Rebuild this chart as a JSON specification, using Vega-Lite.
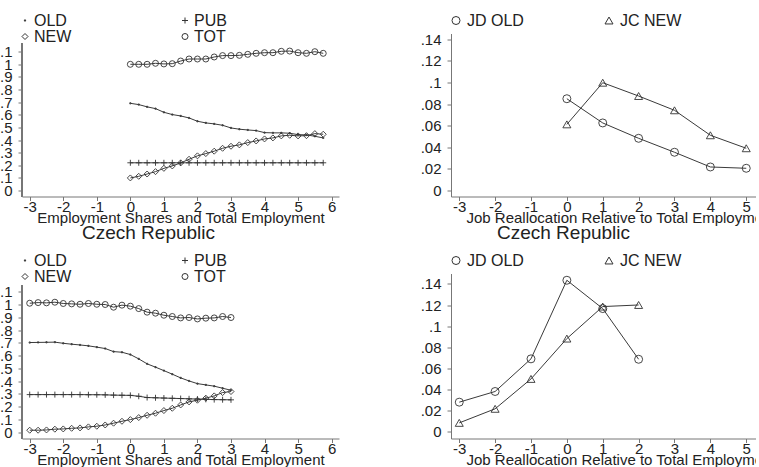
{
  "$schema": "https://vega.github.io/schema/vega-lite/v6.json",
  "padding": {"left": -9, "top": 12.5, "right": -34, "bottom": 0},
  "background": "white",
  "config": {
    "view": {"stroke": null},
    "font": "Liberation Sans",
    "axis": {
      "grid": false,
      "domainColor": "#777777",
      "tickColor": "#777777",
      "tickSize": 4,
      "domainWidth": 1,
      "tickWidth": 1,
      "labelFontSize": 15,
      "labelColor": "#222222",
      "labelOverlap": false,
      "labelFlush": false,
      "titleFontSize": 15,
      "titleFontWeight": "normal",
      "titleColor": "#222222"
    },
    "axisX": {"labelPadding": -1.5, "titlePadding": -4},
    "axisY": {"labelPadding": 6},
    "legend": {
      "orient": "top",
      "title": null,
      "columns": 2,
      "padding": 0,
      "labelFontSize": 16,
      "labelColor": "#222222",
      "labelOffset": 3,
      "labelLimit": 200,
      "rowPadding": 0,
      "symbolStrokeColor": "#333333",
      "symbolStrokeWidth": 1
    },
    "title": {"orient": "bottom", "fontSize": 19, "fontWeight": "normal", "color": "#222222", "offset": -1.5}
  },
  "datasets": {
    "shares_top": [
      {"x": 0, "series": "OLD", "v": 0.691}, {"x": 0.25, "series": "OLD", "v": 0.681}, {"x": 0.5, "series": "OLD", "v": 0.663}, {"x": 0.75, "series": "OLD", "v": 0.649},
      {"x": 1, "series": "OLD", "v": 0.62}, {"x": 1.25, "series": "OLD", "v": 0.602}, {"x": 1.5, "series": "OLD", "v": 0.591}, {"x": 1.75, "series": "OLD", "v": 0.575},
      {"x": 2, "series": "OLD", "v": 0.549}, {"x": 2.25, "series": "OLD", "v": 0.536}, {"x": 2.5, "series": "OLD", "v": 0.528}, {"x": 2.75, "series": "OLD", "v": 0.517},
      {"x": 3, "series": "OLD", "v": 0.496}, {"x": 3.25, "series": "OLD", "v": 0.486}, {"x": 3.5, "series": "OLD", "v": 0.48}, {"x": 3.75, "series": "OLD", "v": 0.475},
      {"x": 4, "series": "OLD", "v": 0.459}, {"x": 4.25, "series": "OLD", "v": 0.457}, {"x": 4.5, "series": "OLD", "v": 0.457}, {"x": 4.75, "series": "OLD", "v": 0.454},
      {"x": 5, "series": "OLD", "v": 0.443}, {"x": 5.25, "series": "OLD", "v": 0.441}, {"x": 5.5, "series": "OLD", "v": 0.43}, {"x": 5.75, "series": "OLD", "v": 0.417},

      {"x": 0, "series": "PUB", "v": 0.22}, {"x": 0.25, "series": "PUB", "v": 0.22}, {"x": 0.5, "series": "PUB", "v": 0.22}, {"x": 0.75, "series": "PUB", "v": 0.22},
      {"x": 1, "series": "PUB", "v": 0.22}, {"x": 1.25, "series": "PUB", "v": 0.22}, {"x": 1.5, "series": "PUB", "v": 0.22}, {"x": 1.75, "series": "PUB", "v": 0.22},
      {"x": 2, "series": "PUB", "v": 0.22}, {"x": 2.25, "series": "PUB", "v": 0.22}, {"x": 2.5, "series": "PUB", "v": 0.22}, {"x": 2.75, "series": "PUB", "v": 0.22},
      {"x": 3, "series": "PUB", "v": 0.22}, {"x": 3.25, "series": "PUB", "v": 0.22}, {"x": 3.5, "series": "PUB", "v": 0.22}, {"x": 3.75, "series": "PUB", "v": 0.22},
      {"x": 4, "series": "PUB", "v": 0.22}, {"x": 4.25, "series": "PUB", "v": 0.22}, {"x": 4.5, "series": "PUB", "v": 0.22}, {"x": 4.75, "series": "PUB", "v": 0.22},
      {"x": 5, "series": "PUB", "v": 0.22}, {"x": 5.25, "series": "PUB", "v": 0.22}, {"x": 5.5, "series": "PUB", "v": 0.22}, {"x": 5.75, "series": "PUB", "v": 0.22},

      {"x": 0, "series": "NEW", "v": 0.1}, {"x": 0.25, "series": "NEW", "v": 0.113}, {"x": 0.5, "series": "NEW", "v": 0.131}, {"x": 0.75, "series": "NEW", "v": 0.15},
      {"x": 1, "series": "NEW", "v": 0.176}, {"x": 1.25, "series": "NEW", "v": 0.195}, {"x": 1.5, "series": "NEW", "v": 0.219}, {"x": 1.75, "series": "NEW", "v": 0.248},
      {"x": 2, "series": "NEW", "v": 0.275}, {"x": 2.25, "series": "NEW", "v": 0.293}, {"x": 2.5, "series": "NEW", "v": 0.312}, {"x": 2.75, "series": "NEW", "v": 0.335},
      {"x": 3, "series": "NEW", "v": 0.351}, {"x": 3.25, "series": "NEW", "v": 0.362}, {"x": 3.5, "series": "NEW", "v": 0.38}, {"x": 3.75, "series": "NEW", "v": 0.393},
      {"x": 4, "series": "NEW", "v": 0.409}, {"x": 4.25, "series": "NEW", "v": 0.417}, {"x": 4.5, "series": "NEW", "v": 0.433}, {"x": 4.75, "series": "NEW", "v": 0.438},
      {"x": 5, "series": "NEW", "v": 0.433}, {"x": 5.25, "series": "NEW", "v": 0.435}, {"x": 5.5, "series": "NEW", "v": 0.451}, {"x": 5.75, "series": "NEW", "v": 0.446},

      {"x": 0, "series": "TOT", "v": 1.0}, {"x": 0.25, "series": "TOT", "v": 1.0}, {"x": 0.5, "series": "TOT", "v": 1.0}, {"x": 0.75, "series": "TOT", "v": 1.008},
      {"x": 1, "series": "TOT", "v": 1.003}, {"x": 1.25, "series": "TOT", "v": 1.005}, {"x": 1.5, "series": "TOT", "v": 1.026}, {"x": 1.75, "series": "TOT", "v": 1.042},
      {"x": 2, "series": "TOT", "v": 1.042}, {"x": 2.25, "series": "TOT", "v": 1.042}, {"x": 2.5, "series": "TOT", "v": 1.058}, {"x": 2.75, "series": "TOT", "v": 1.069},
      {"x": 3, "series": "TOT", "v": 1.069}, {"x": 3.25, "series": "TOT", "v": 1.071}, {"x": 3.5, "series": "TOT", "v": 1.079}, {"x": 3.75, "series": "TOT", "v": 1.087},
      {"x": 4, "series": "TOT", "v": 1.092}, {"x": 4.25, "series": "TOT", "v": 1.092}, {"x": 4.5, "series": "TOT", "v": 1.103}, {"x": 4.75, "series": "TOT", "v": 1.105},
      {"x": 5, "series": "TOT", "v": 1.092}, {"x": 5.25, "series": "TOT", "v": 1.087}, {"x": 5.5, "series": "TOT", "v": 1.1}, {"x": 5.75, "series": "TOT", "v": 1.087}
    ],
    "shares_bottom": [
      {"x": -3, "series": "OLD", "v": 0.703}, {"x": -2.75, "series": "OLD", "v": 0.704}, {"x": -2.5, "series": "OLD", "v": 0.705}, {"x": -2.25, "series": "OLD", "v": 0.706},
      {"x": -2, "series": "OLD", "v": 0.697}, {"x": -1.75, "series": "OLD", "v": 0.69}, {"x": -1.5, "series": "OLD", "v": 0.684}, {"x": -1.25, "series": "OLD", "v": 0.677},
      {"x": -1, "series": "OLD", "v": 0.667}, {"x": -0.75, "series": "OLD", "v": 0.656}, {"x": -0.5, "series": "OLD", "v": 0.632}, {"x": -0.25, "series": "OLD", "v": 0.627},
      {"x": 0, "series": "OLD", "v": 0.609}, {"x": 0.25, "series": "OLD", "v": 0.575}, {"x": 0.5, "series": "OLD", "v": 0.536}, {"x": 0.75, "series": "OLD", "v": 0.51},
      {"x": 1, "series": "OLD", "v": 0.483}, {"x": 1.25, "series": "OLD", "v": 0.455}, {"x": 1.5, "series": "OLD", "v": 0.426}, {"x": 1.75, "series": "OLD", "v": 0.402},
      {"x": 2, "series": "OLD", "v": 0.381}, {"x": 2.25, "series": "OLD", "v": 0.371}, {"x": 2.5, "series": "OLD", "v": 0.361}, {"x": 2.75, "series": "OLD", "v": 0.345},
      {"x": 3, "series": "OLD", "v": 0.329},

      {"x": -3, "series": "PUB", "v": 0.295}, {"x": -2.75, "series": "PUB", "v": 0.295}, {"x": -2.5, "series": "PUB", "v": 0.295}, {"x": -2.25, "series": "PUB", "v": 0.295},
      {"x": -2, "series": "PUB", "v": 0.295}, {"x": -1.75, "series": "PUB", "v": 0.295}, {"x": -1.5, "series": "PUB", "v": 0.295}, {"x": -1.25, "series": "PUB", "v": 0.294},
      {"x": -1, "series": "PUB", "v": 0.294}, {"x": -0.75, "series": "PUB", "v": 0.293}, {"x": -0.5, "series": "PUB", "v": 0.291}, {"x": -0.25, "series": "PUB", "v": 0.29},
      {"x": 0, "series": "PUB", "v": 0.289}, {"x": 0.25, "series": "PUB", "v": 0.282}, {"x": 0.5, "series": "PUB", "v": 0.272}, {"x": 0.75, "series": "PUB", "v": 0.27},
      {"x": 1, "series": "PUB", "v": 0.268}, {"x": 1.25, "series": "PUB", "v": 0.266}, {"x": 1.5, "series": "PUB", "v": 0.264}, {"x": 1.75, "series": "PUB", "v": 0.262},
      {"x": 2, "series": "PUB", "v": 0.26}, {"x": 2.25, "series": "PUB", "v": 0.258}, {"x": 2.5, "series": "PUB", "v": 0.256}, {"x": 2.75, "series": "PUB", "v": 0.255},
      {"x": 3, "series": "PUB", "v": 0.254},

      {"x": -3, "series": "NEW", "v": 0.016}, {"x": -2.75, "series": "NEW", "v": 0.016}, {"x": -2.5, "series": "NEW", "v": 0.018}, {"x": -2.25, "series": "NEW", "v": 0.024},
      {"x": -2, "series": "NEW", "v": 0.026}, {"x": -1.75, "series": "NEW", "v": 0.031}, {"x": -1.5, "series": "NEW", "v": 0.034}, {"x": -1.25, "series": "NEW", "v": 0.042},
      {"x": -1, "series": "NEW", "v": 0.047}, {"x": -0.75, "series": "NEW", "v": 0.057}, {"x": -0.5, "series": "NEW", "v": 0.071}, {"x": -0.25, "series": "NEW", "v": 0.086},
      {"x": 0, "series": "NEW", "v": 0.099}, {"x": 0.25, "series": "NEW", "v": 0.115}, {"x": 0.5, "series": "NEW", "v": 0.133}, {"x": 0.75, "series": "NEW", "v": 0.149},
      {"x": 1, "series": "NEW", "v": 0.17}, {"x": 1.25, "series": "NEW", "v": 0.188}, {"x": 1.5, "series": "NEW", "v": 0.214}, {"x": 1.75, "series": "NEW", "v": 0.238},
      {"x": 2, "series": "NEW", "v": 0.251}, {"x": 2.25, "series": "NEW", "v": 0.267}, {"x": 2.5, "series": "NEW", "v": 0.285}, {"x": 2.75, "series": "NEW", "v": 0.311},
      {"x": 3, "series": "NEW", "v": 0.319},

      {"x": -3, "series": "TOT", "v": 1.011}, {"x": -2.75, "series": "TOT", "v": 1.016}, {"x": -2.5, "series": "TOT", "v": 1.014}, {"x": -2.25, "series": "TOT", "v": 1.019},
      {"x": -2, "series": "TOT", "v": 1.009}, {"x": -1.75, "series": "TOT", "v": 1.006}, {"x": -1.5, "series": "TOT", "v": 1.003}, {"x": -1.25, "series": "TOT", "v": 1.009},
      {"x": -1, "series": "TOT", "v": 1.003}, {"x": -0.75, "series": "TOT", "v": 1.001}, {"x": -0.5, "series": "TOT", "v": 0.98}, {"x": -0.25, "series": "TOT", "v": 0.996},
      {"x": 0, "series": "TOT", "v": 0.988}, {"x": 0.25, "series": "TOT", "v": 0.969}, {"x": 0.5, "series": "TOT", "v": 0.941}, {"x": 0.75, "series": "TOT", "v": 0.933},
      {"x": 1, "series": "TOT", "v": 0.917}, {"x": 1.25, "series": "TOT", "v": 0.907}, {"x": 1.5, "series": "TOT", "v": 0.896}, {"x": 1.75, "series": "TOT", "v": 0.899},
      {"x": 2, "series": "TOT", "v": 0.888}, {"x": 2.25, "series": "TOT", "v": 0.894}, {"x": 2.5, "series": "TOT", "v": 0.896}, {"x": 2.75, "series": "TOT", "v": 0.907},
      {"x": 3, "series": "TOT", "v": 0.899}
    ],
    "realloc_top": [
      {"x": 0, "series": "JD OLD", "v": 0.0849}, {"x": 1, "series": "JD OLD", "v": 0.0625}, {"x": 2, "series": "JD OLD", "v": 0.0483},
      {"x": 3, "series": "JD OLD", "v": 0.0354}, {"x": 4, "series": "JD OLD", "v": 0.0218}, {"x": 5, "series": "JD OLD", "v": 0.0206},
      {"x": 0, "series": "JC NEW", "v": 0.0612}, {"x": 1, "series": "JC NEW", "v": 0.0997}, {"x": 2, "series": "JC NEW", "v": 0.0874},
      {"x": 3, "series": "JC NEW", "v": 0.0742}, {"x": 4, "series": "JC NEW", "v": 0.0511}, {"x": 5, "series": "JC NEW", "v": 0.0391}
    ],
    "realloc_bottom": [
      {"x": -3, "series": "JD OLD", "v": 0.0281}, {"x": -2, "series": "JD OLD", "v": 0.0382}, {"x": -1, "series": "JD OLD", "v": 0.0691},
      {"x": 0, "series": "JD OLD", "v": 0.1435}, {"x": 1, "series": "JD OLD", "v": 0.1167}, {"x": 2, "series": "JD OLD", "v": 0.0687},
      {"x": -3, "series": "JC NEW", "v": 0.0085}, {"x": -2, "series": "JC NEW", "v": 0.0218}, {"x": -1, "series": "JC NEW", "v": 0.0501},
      {"x": 0, "series": "JC NEW", "v": 0.0883}, {"x": 1, "series": "JC NEW", "v": 0.1186}, {"x": 2, "series": "JC NEW", "v": 0.1201}
    ]
  },
  "columns": 2,
  "spacing": {"row": 10, "column": 81},
  "resolve": {"scale": {"shape": "independent"}, "legend": {"shape": "independent"}},
  "concat": [
    {
      "width": 317,
      "height": 163,
      "data": {"name": "shares_top"},
      "title": {"text": "Czech Republic", "dx": -32},
      "encoding": {
        "x": {"field": "x", "type": "quantitative",
              "scale": {"domain": [-3.23, 6.22], "nice": false, "zero": false},
              "axis": {"values": [-3, -2, -1, 0, 1, 2, 3, 4, 5, 6], "labelExpr": "'' + datum.value", "title": "Employment Shares and Total Employment"}},
        "y": {"field": "v", "type": "quantitative",
              "scale": {"domain": [-0.047, 1.244], "nice": false, "zero": false},
              "axis": {"values": [0, 0.1, 0.2, 0.3, 0.4, 0.5, 0.6, 0.7, 0.8, 0.9, 1, 1.1], "title": null, "domain": false,
                       "labelExpr": "datum.value == 0 ? '0' : datum.value < 1 ? slice(format(datum.value, '.2~f'), 1) : format(datum.value, '.2~f')"}}
      },
      "layer": [
        {"mark": {"type": "rule", "color": "#777777", "strokeWidth": 1},
         "encoding": {"x": {"datum": -3.23}, "y": {"datum": -0.047}, "y2": {"datum": 1.165}}},
        {"mark": {"type": "line", "color": "#3a3a3a", "strokeWidth": 1}, "encoding": {"detail": {"field": "series"}}},
        {"mark": {"type": "point", "filled": false, "color": "#333333", "strokeWidth": 0.9, "size": 36, "opacity": 1},
         "encoding": {"shape": {"field": "series", "type": "nominal",
           "scale": {"domain": ["OLD", "PUB", "NEW", "TOT"], "range": ["M-0.2,-0.2H0.2V0.2H-0.2Z", "M-1,0H1M0,-1V1", "diamond", "circle"]},
           "legend": {"columnPadding": 108, "symbolSize": 36, "symbolOffset": -5, "labelOffset": 1, "offset": -11}}}}
      ]
    },
    {
      "width": 339,
      "height": 163,
      "data": {"name": "realloc_top"},
      "title": {"text": "Czech Republic", "dx": -57},
      "encoding": {
        "x": {"field": "x", "type": "quantitative",
              "scale": {"domain": [-3.23, 6.22], "nice": false, "zero": false},
              "axis": {"values": [-3, -2, -1, 0, 1, 2, 3, 4, 5, 6], "labelExpr": "'' + datum.value", "title": "Job Reallocation Relative to Total Employment"}},
        "y": {"field": "v", "type": "quantitative",
              "scale": {"domain": [-0.0055, 0.1452], "nice": false, "zero": false},
              "axis": {"values": [0, 0.02, 0.04, 0.06, 0.08, 0.1, 0.12, 0.14], "title": null,
                       "labelExpr": "datum.value == 0 ? '0' : slice(format(datum.value, '.2~f'), 1)"}}
      },
      "layer": [
        {"mark": {"type": "line", "color": "#3a3a3a", "strokeWidth": 1}, "encoding": {"detail": {"field": "series"}}},
        {"mark": {"type": "point", "filled": false, "color": "#333333", "strokeWidth": 0.9, "size": 64, "opacity": 1},
         "encoding": {"shape": {"field": "series", "type": "nominal",
           "scale": {"domain": ["JD OLD", "JC NEW"], "range": ["circle", "triangle-up"]},
           "legend": {"columnPadding": 79, "symbolSize": 64, "symbolOffset": -3, "offset": 5.5}}}}
      ]
    },
    {
      "width": 317,
      "height": 165,
      "data": {"name": "shares_bottom"},
      "title": {"text": "Czech Republic", "dx": -32},
      "encoding": {
        "x": {"field": "x", "type": "quantitative",
              "scale": {"domain": [-3.23, 6.22], "nice": false, "zero": false},
              "axis": {"values": [-3, -2, -1, 0, 1, 2, 3, 4, 5, 6], "labelExpr": "'' + datum.value", "title": "Employment Shares and Total Employment"}},
        "y": {"field": "v", "type": "quantitative",
              "scale": {"domain": [-0.049, 1.244], "nice": false, "zero": false},
              "axis": {"values": [0, 0.1, 0.2, 0.3, 0.4, 0.5, 0.6, 0.7, 0.8, 0.9, 1, 1.1], "title": null, "domain": false,
                       "labelExpr": "datum.value == 0 ? '0' : datum.value < 1 ? slice(format(datum.value, '.2~f'), 1) : format(datum.value, '.2~f')"}}
      },
      "layer": [
        {"mark": {"type": "rule", "color": "#777777", "strokeWidth": 1},
         "encoding": {"x": {"datum": -3.23}, "y": {"datum": -0.049}, "y2": {"datum": 1.152}}},
        {"mark": {"type": "line", "color": "#3a3a3a", "strokeWidth": 1}, "encoding": {"detail": {"field": "series"}}},
        {"mark": {"type": "point", "filled": false, "color": "#333333", "strokeWidth": 0.9, "size": 36, "opacity": 1},
         "encoding": {"shape": {"field": "series", "type": "nominal",
           "scale": {"domain": ["OLD", "PUB", "NEW", "TOT"], "range": ["M-0.2,-0.2H0.2V0.2H-0.2Z", "M-1,0H1M0,-1V1", "diamond", "circle"]},
           "legend": {"columnPadding": 108, "symbolSize": 36, "symbolOffset": -5, "labelOffset": 1, "offset": -11}}}}
      ]
    },
    {
      "width": 339,
      "height": 165,
      "data": {"name": "realloc_bottom"},
      "title": {"text": "Czech Republic", "dx": -57},
      "encoding": {
        "x": {"field": "x", "type": "quantitative",
              "scale": {"domain": [-3.23, 6.22], "nice": false, "zero": false},
              "axis": {"values": [-3, -2, -1, 0, 1, 2, 3, 4, 5, 6], "labelExpr": "'' + datum.value", "title": "Job Reallocation Relative to Total Employment"}},
        "y": {"field": "v", "type": "quantitative",
              "scale": {"domain": [-0.0063, 0.1499], "nice": false, "zero": false},
              "axis": {"values": [0, 0.02, 0.04, 0.06, 0.08, 0.1, 0.12, 0.14], "title": null,
                       "labelExpr": "datum.value == 0 ? '0' : slice(format(datum.value, '.2~f'), 1)"}}
      },
      "layer": [
        {"mark": {"type": "line", "color": "#3a3a3a", "strokeWidth": 1}, "encoding": {"detail": {"field": "series"}}},
        {"mark": {"type": "point", "filled": false, "color": "#333333", "strokeWidth": 0.9, "size": 64, "opacity": 1},
         "encoding": {"shape": {"field": "series", "type": "nominal",
           "scale": {"domain": ["JD OLD", "JC NEW"], "range": ["circle", "triangle-up"]},
           "legend": {"columnPadding": 79, "symbolSize": 64, "symbolOffset": -3, "offset": 5.5}}}}
      ]
    }
  ]
}
